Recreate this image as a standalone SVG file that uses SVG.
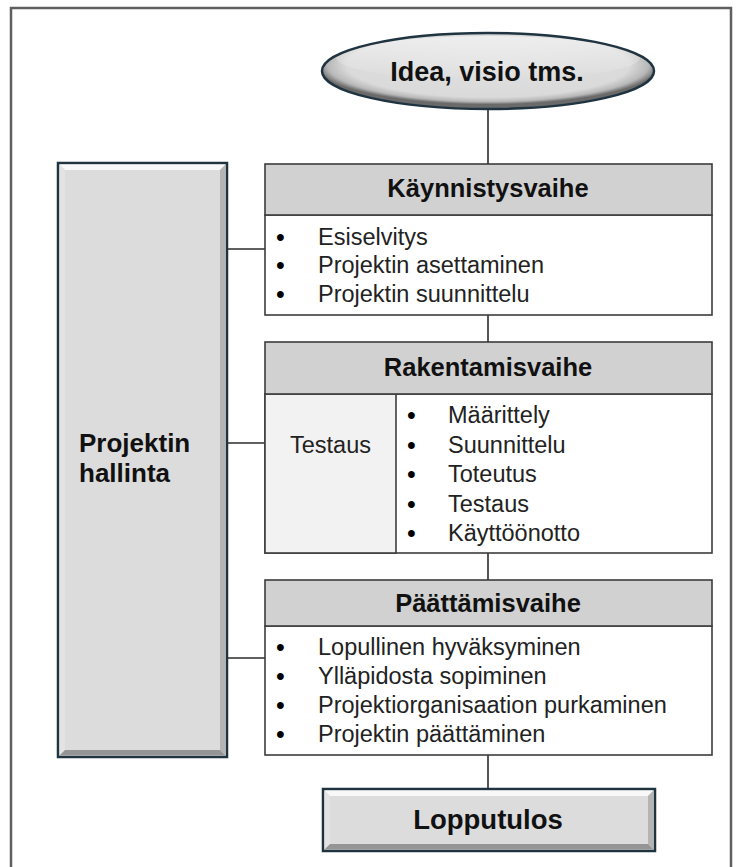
<svg xmlns="http://www.w3.org/2000/svg" width="741" height="867" viewBox="0 0 741 867">
<defs>
<radialGradient id="ellG" cx="0.5" cy="0.42" r="0.52">
<stop offset="0" stop-color="#e0e0e0"/>
<stop offset="0.82" stop-color="#dadada"/>
<stop offset="0.93" stop-color="#b8b8b8"/>
<stop offset="1" stop-color="#6a6a6a"/>
</radialGradient>
<linearGradient id="ellTop" x1="0" y1="0" x2="0" y2="1">
<stop offset="0" stop-color="#ffffff" stop-opacity="0.9"/>
<stop offset="1" stop-color="#ffffff" stop-opacity="0"/>
</linearGradient>
<style>
.frame{fill:none;stroke:#5f5f5f;stroke-width:2.5}
.bev{fill:#dcdcdc;stroke:#1f3440;stroke-width:2.5}
.hl{fill:#f8f8f8}
.lf{fill:#e3e3e3}
.sh{fill:#b4b4b4}
.shd{fill:#959595}
.hdr{fill:#d1d1d1;stroke:#3c3c3c;stroke-width:1.6}
.body{fill:#ffffff;stroke:#3c3c3c;stroke-width:1.6}
.cell{fill:#f2f2f2;stroke:#3c3c3c;stroke-width:1.6}
.conn{stroke:#2b2b2b;stroke-width:1.6;fill:none}
.tb{font-family:"Liberation Sans",Arial,sans-serif;font-weight:bold;font-size:25.5px;fill:#111;text-anchor:middle}
.tl{font-family:"Liberation Sans",Arial,sans-serif;font-size:23.5px;fill:#222}
.bul{font-family:"Liberation Sans",Arial,sans-serif;font-size:25px;fill:#000}
</style>
</defs>
<rect x="0" y="0" width="741" height="867" fill="#ffffff"/>
<path class="frame" d="M11,870 V8 H731 V870"/>

<g id="connectors">
<line class="conn" x1="488" y1="109" x2="488" y2="164"/>
<line class="conn" x1="488" y1="315" x2="488" y2="342"/>
<line class="conn" x1="488" y1="553" x2="488" y2="580"/>
<line class="conn" x1="488" y1="755" x2="488" y2="789"/>
<line class="conn" x1="227" y1="249" x2="265" y2="249"/>
<line class="conn" x1="227" y1="443" x2="265" y2="443"/>
<line class="conn" x1="227" y1="658" x2="265" y2="658"/>
</g>

<g id="idea">
<ellipse cx="488" cy="71" rx="166" ry="38" fill="url(#ellG)"/>
<ellipse cx="488" cy="58" rx="152" ry="22" fill="url(#ellTop)" opacity="0.6"/>
<ellipse cx="488" cy="71" rx="166" ry="38" fill="none" stroke="#1f3440" stroke-width="2.5"/>
<text class="tb" x="487" y="81" style="font-size:27px">Idea, visio tms.</text>
</g>

<g id="hallinta">
<rect class="bev" x="58" y="163" width="169" height="594"/>
<polygon class="hl" points="59.5,164.5 225.5,164.5 220,170 65,170"/>
<polygon class="lf" points="59.5,164.5 65,170 65,750 59.5,755.5"/>
<polygon class="sh" points="225.5,164.5 225.5,755.5 220,750 220,170"/>
<polygon class="shd" points="59.5,755.5 225.5,755.5 220,750 65,750"/>
<text class="tb" x="79" y="452" style="text-anchor:start;font-size:26px">Projektin</text>
<text class="tb" x="79" y="482" style="text-anchor:start;font-size:26px">hallinta</text>
</g>

<g id="kaynnistysvaihe">
<rect class="body" x="265" y="215" width="447" height="100"/>
<rect class="hdr" x="265" y="164" width="447" height="51"/>
<text class="tb" x="488" y="197">Käynnistysvaihe</text>
<text class="bul" x="276" y="246">•</text>
<text class="bul" x="276" y="274">•</text>
<text class="bul" x="276" y="303">•</text>
<text class="tl" x="318" y="245">Esiselvitys</text>
<text class="tl" x="318" y="273">Projektin asettaminen</text>
<text class="tl" x="318" y="302">Projektin suunnittelu</text>
</g>

<g id="rakentamisvaihe">
<rect class="body" x="265" y="394" width="447" height="159"/>
<rect class="cell" x="265" y="394" width="131" height="159"/>
<rect class="hdr" x="265" y="342" width="447" height="52"/>
<text class="tb" x="488" y="376">Rakentamisvaihe</text>
<text class="tl" x="330.5" y="453" text-anchor="middle">Testaus</text>
<text class="bul" x="407" y="424">•</text>
<text class="bul" x="407" y="454">•</text>
<text class="bul" x="407" y="483">•</text>
<text class="bul" x="407" y="513">•</text>
<text class="bul" x="407" y="542">•</text>
<text class="tl" x="448" y="423">Määrittely</text>
<text class="tl" x="448" y="453">Suunnittelu</text>
<text class="tl" x="448" y="482">Toteutus</text>
<text class="tl" x="448" y="512">Testaus</text>
<text class="tl" x="448" y="541">Käyttöönotto</text>
</g>

<g id="paattamisvaihe">
<rect class="body" x="265" y="626" width="447" height="129"/>
<rect class="hdr" x="265" y="580" width="447" height="46"/>
<text class="tb" x="488" y="612">Päättämisvaihe</text>
<text class="bul" x="276" y="656">•</text>
<text class="bul" x="276" y="685">•</text>
<text class="bul" x="276" y="714">•</text>
<text class="bul" x="276" y="743">•</text>
<text class="tl" x="318" y="655">Lopullinen hyväksyminen</text>
<text class="tl" x="318" y="684">Ylläpidosta sopiminen</text>
<text class="tl" x="318" y="713">Projektiorganisaation purkaminen</text>
<text class="tl" x="318" y="742">Projektin päättäminen</text>
</g>

<g id="lopputulos">
<rect class="bev" x="323" y="789" width="332" height="62"/>
<polygon class="hl" points="324.5,790.5 653.5,790.5 648,796 330,796"/>
<polygon class="lf" points="324.5,790.5 330,796 330,844 324.5,849.5"/>
<polygon class="sh" points="653.5,790.5 653.5,849.5 648,844 648,796"/>
<polygon class="shd" points="324.5,849.5 653.5,849.5 648,844 330,844"/>
<text class="tb" x="488" y="829" style="font-size:27.5px">Lopputulos</text>
</g>
</svg>
